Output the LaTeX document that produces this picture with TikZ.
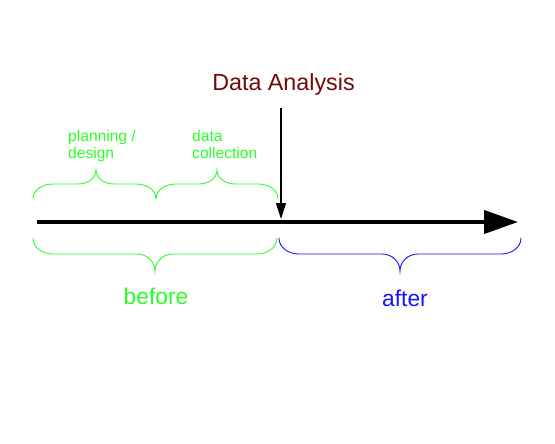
\documentclass[tikz,border=0pt]{standalone}
\usepackage{fontspec}
\setmainfont{Liberation Sans}
\usetikzlibrary{arrows.meta}
\definecolor{lgreen}{RGB}{40,255,40}
\definecolor{dblue}{RGB}{20,20,255}
\definecolor{dred}{RGB}{115,10,10}
\newcommand{\upbrace}[7]{% style,x0,x1,xm,yend,ybar,ytip (ends below bar)
  \draw[#1] (#2,#5) to[out=90,in=180] (#2+20,#6) -- (#4-18,#6)
    to[out=0,in=-90] (#4,#7) to[out=-90,in=180] (#4+18,#6) -- (#3-20,#6)
    to[out=0,in=90] (#3,#5);}
\newcommand{\downbrace}[7]{% ends above bar
  \draw[#1] (#2,#5) to[out=-90,in=180] (#2+20,#6) -- (#4-18,#6)
    to[out=0,in=90] (#4,#7) to[out=90,in=180] (#4+18,#6) -- (#3-20,#6)
    to[out=0,in=-90] (#3,#5);}
\tikzset{
  bracegreen/.style={draw=lgreen, line width=0.9pt},
  braceblue/.style={draw=dblue, line width=0.9pt},
  smalllbl/.style={text=lgreen, font=\fontsize{15.6}{17.5}\selectfont, align=left, inner sep=0pt, anchor=north west},
  biglbl/.style={font=\fontsize{22.8}{26}\selectfont, inner sep=0pt, anchor=base},
}
\begin{document}
\begin{tikzpicture}[x=1pt,y=1pt]
\useasboundingbox (0,0) rectangle (555,-444);
% axis
\coordinate (a0) at (37,-222);
\coordinate (a1) at (518,-222);
\draw[line width=4pt, -{Triangle[length=34pt,width=23pt]}] (a0) -- (a1);
% data analysis
\node[biglbl, text=dred, font=\fontsize{23.3}{26}\selectfont] (da) at (283.5,-91) {Data Analysis};
\coordinate (daTop) at (281,-108);
\coordinate (daTip) at (281,-219);
\draw[line width=1.2pt, -{Triangle[length=16pt,width=10pt]}] (daTop) -- (daTip);
% top braces
\upbrace{bracegreen}{33}{156}{96}{-199}{-184}{-170}
\upbrace{bracegreen}{156}{278}{217}{-199}{-184}{-170}
\node[smalllbl] (pd) at (68,-129.5) {planning /\\design};
\node[smalllbl] (dc) at (192,-129.5) {data\\collection};
% bottom braces
\downbrace{bracegreen}{33}{277}{155}{-238}{-254}{-271}
\downbrace{braceblue}{279}{521}{400}{-238}{-254}{-271}
\node[biglbl, text=lgreen] (bf) at (156,-304) {before};
\node[biglbl, text=dblue] (af) at (405,-306) {after};
\end{tikzpicture}
\end{document}
